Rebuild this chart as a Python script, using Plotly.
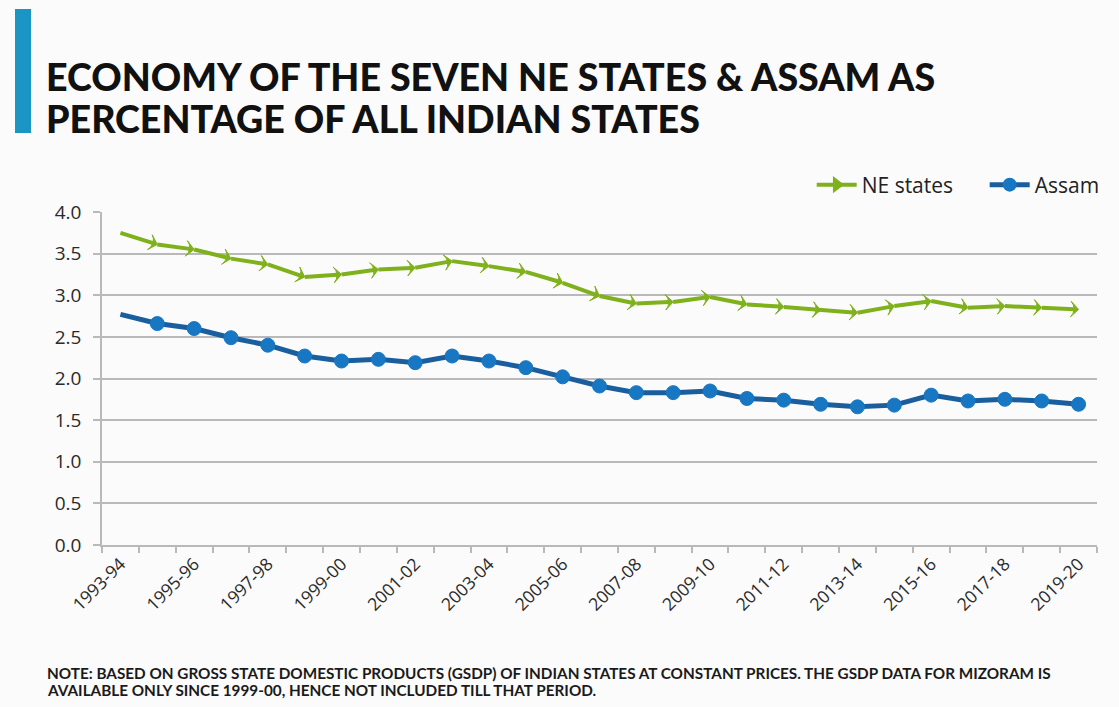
import plotly.graph_objects as go

years = ["1993-94", "1994-95", "1995-96", "1996-97", "1997-98", "1998-99", "1999-00",
         "2000-01", "2001-02", "2002-03", "2003-04", "2004-05", "2005-06", "2006-07",
         "2007-08", "2008-09", "2009-10", "2010-11", "2011-12", "2012-13", "2013-14",
         "2014-15", "2015-16", "2016-17", "2017-18", "2018-19", "2019-20"]

ne_states = [3.75, 3.61, 3.55, 3.44, 3.37, 3.22, 3.25, 3.31, 3.33, 3.41, 3.35, 3.28,
             3.15, 2.99, 2.90, 2.92, 2.98, 2.89, 2.86, 2.82, 2.79, 2.87, 2.93, 2.85,
             2.87, 2.85, 2.83]

assam = [2.77, 2.66, 2.60, 2.49, 2.40, 2.27, 2.21, 2.23, 2.19, 2.27, 2.21, 2.13,
         2.02, 1.91, 1.83, 1.83, 1.85, 1.76, 1.74, 1.69, 1.66, 1.68, 1.80, 1.73,
         1.75, 1.73, 1.69]

y_ticks = [0.0, 0.5, 1.0, 1.5, 2.0, 2.5, 3.0, 3.5, 4.0]

title_lines = ["ECONOMY OF THE SEVEN NE STATES &amp; ASSAM AS", "PERCENTAGE OF ALL INDIAN STATES"]
note_lines = ["NOTE: BASED ON GROSS STATE DOMESTIC PRODUCTS (GSDP) OF INDIAN STATES AT CONSTANT PRICES. THE GSDP DATA FOR MIZORAM IS",
              "AVAILABLE ONLY SINCE 1999-00, HENCE NOT INCLUDED TILL THAT PERIOD."]

GREEN = "#7fb11c"
BLUE_LINE = "#1b5e9e"
BLUE_MARK = "#1877c2"
GRID = "#b9b9b9"

W, H = 1119, 707
L, R, T, B = 102, 22, 212, 162
PW, PH = W - L - R, H - T - B


def px_x(p):
    return (p - L) / PW


def px_y(p):
    return (H - B - p) / PH


fig = go.Figure()

sizes_arrow = [0] + [11] * (len(years) - 1)
sizes_circ = [0] + [14] * (len(years) - 1)

fig.add_trace(go.Scatter(
    x=years, y=ne_states, mode="lines+markers", name="NE states", showlegend=False,
    line=dict(color=GREEN, width=4),
    marker=dict(symbol="arrow-wide", angleref="previous", size=sizes_arrow, color=GREEN,
                opacity=1, line=dict(width=1, color=GREEN)),
))
fig.add_trace(go.Scatter(
    x=years, y=assam, mode="lines+markers", name="Assam", showlegend=False,
    line=dict(color=BLUE_LINE, width=5),
    marker=dict(symbol="circle", size=sizes_circ, color=BLUE_MARK, opacity=1,
                line=dict(width=1, color=BLUE_MARK)),
))
# legend entries
fig.add_trace(go.Scatter(
    x=[None], y=[None], mode="lines+markers", name="NE states",
    line=dict(color=GREEN, width=4),
    marker=dict(symbol="triangle-right", size=15, color=GREEN),
))
fig.add_trace(go.Scatter(
    x=[None], y=[None], mode="lines+markers", name="Assam",
    line=dict(color=BLUE_LINE, width=5),
    marker=dict(symbol="circle", size=14, color=BLUE_MARK),
))

ticktext = [y if i % 2 == 0 else "" for i, y in enumerate(years)]

fig.update_xaxes(
    type="category", categoryorder="array", categoryarray=years,
    range=[-0.5, len(years) - 0.5],
    tickmode="array", tickvals=years, ticktext=ticktext,
    tickson="boundaries", ticks="outside", ticklen=6, tickwidth=1.5, tickcolor=GRID,
    showline=True, linecolor=GRID, linewidth=2,
    showgrid=False, zeroline=False,
    tickangle=-45,
    tickfont=dict(family="Open Sans", size=17.5, color="#2a2a2a"),
)
fig.update_yaxes(
    range=[0, 4], tickmode="array", tickvals=y_ticks,
    ticktext=[f"{v:.1f}" for v in y_ticks],
    ticks="outside", ticklen=7, tickwidth=1.5, tickcolor=GRID,
    showline=True, linecolor=GRID, linewidth=1.5,
    showgrid=True, gridcolor=GRID, gridwidth=1.5, zeroline=False,
    ticklabelstandoff=8,
    tickfont=dict(family="Open Sans", size=19, color="#2a2a2a"),
)

annotations = [
    dict(text=title_lines[0], x=px_x(44), y=px_y(76), xref="paper", yref="paper",
         xanchor="left", yanchor="middle", showarrow=False,
         font=dict(family="Lato", size=37.6, color="#111111", weight=900)),
    dict(text=title_lines[1], x=px_x(44), y=px_y(119), xref="paper", yref="paper",
         xanchor="left", yanchor="middle", showarrow=False,
         font=dict(family="Lato", size=37.6, color="#111111", weight=900)),
    dict(text=note_lines[0], x=px_x(45), y=px_y(673), xref="paper", yref="paper",
         xanchor="left", yanchor="middle", showarrow=False,
         font=dict(family="Lato", size=15.3, color="#1a1a1a", weight=700)),
    dict(text=note_lines[1], x=px_x(45), y=px_y(690), xref="paper", yref="paper",
         xanchor="left", yanchor="middle", showarrow=False,
         font=dict(family="Lato", size=15.3, color="#1a1a1a", weight=700)),
]

shapes = [
    dict(type="rect", xref="paper", yref="paper",
         x0=px_x(15), x1=px_x(31), y0=px_y(9), y1=px_y(133),
         fillcolor="#1b95c4", line=dict(width=0), layer="above"),
]

fig.update_layout(
    width=W, height=H,
    margin=dict(l=L, r=R, t=T, b=B, autoexpand=False),
    paper_bgcolor="#fbfbfb", plot_bgcolor="#fbfbfb",
    font=dict(family="Open Sans", color="#333333"),
    legend=dict(orientation="h", x=1.061, xanchor="right", y=px_y(185), yanchor="middle",
                bgcolor="rgba(0,0,0,0)", font=dict(family="Open Sans", size=21, color="#222222"),
                itemwidth=40, entrywidth=118, entrywidthmode="pixels"),
    annotations=annotations, shapes=shapes,
)

fig.write_html("out.html")
